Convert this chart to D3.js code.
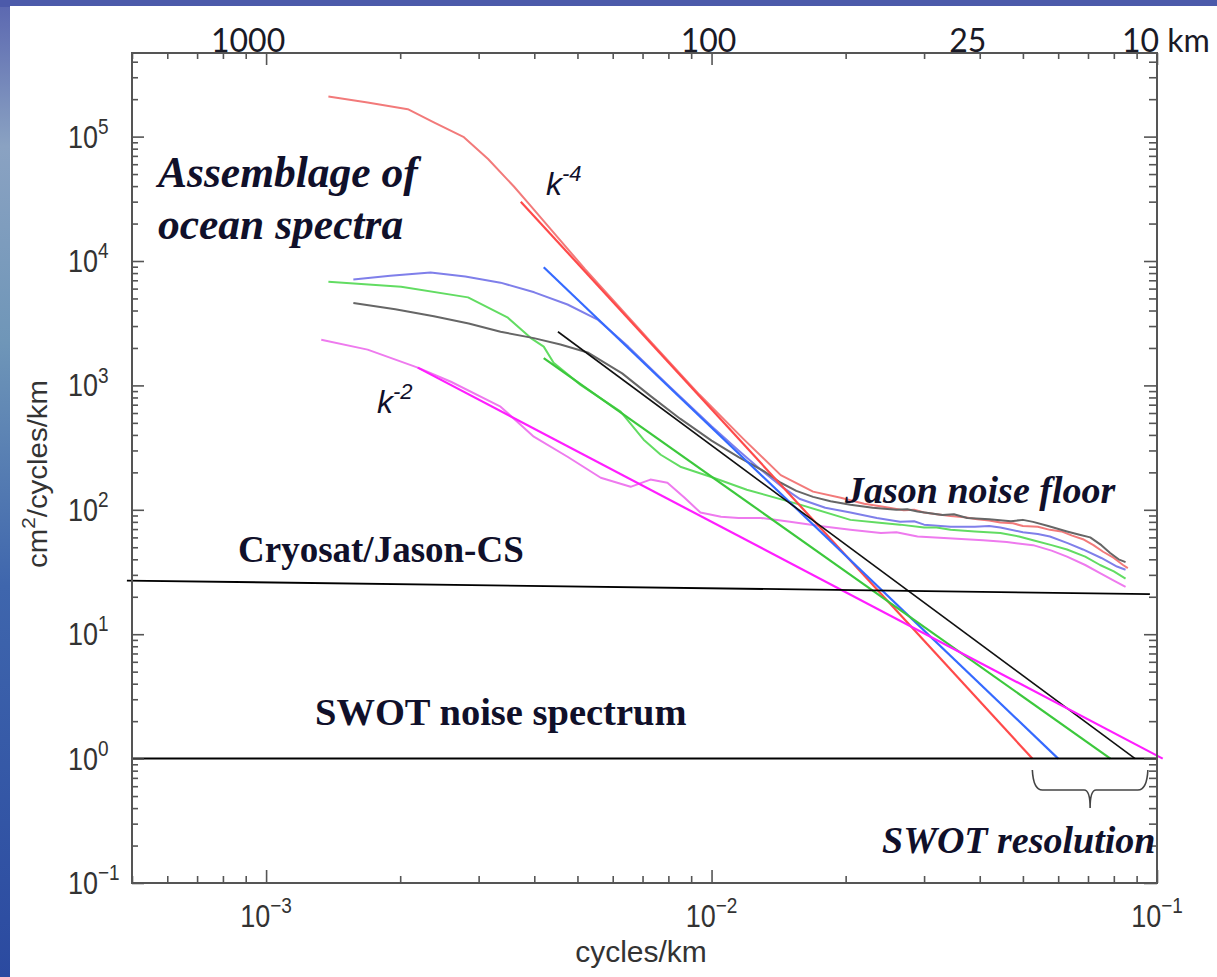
<!DOCTYPE html>
<html>
<head>
<meta charset="utf-8">
<script src="https://cdn.jsdelivr.net/npm/d3@7"></script>
<style>
  html, body { margin: 0; padding: 0; background: #fff; }
  svg { display: block; }
</style>
</head>
<body>
<svg id="chart" width="1217" height="977"></svg>
<script>
// Sea surface height wavenumber spectra, [wavenumber (cycles/km), PSD (cm^2/cycles/km)]
const redSpectrum = [
  [1.38e-3, 2.1e5], [1.69e-3, 1.88e5], [2.08e-3, 1.66e5], [2.38e-3, 1.3e5], [2.78e-3, 9.9e4],
  [3.15e-3, 6.6e4], [3.6e-3, 3.97e4], [3.9e-3, 2.85e4], [5.2e-3, 8.6e3], [7.3e-3, 2.25e3],
  [9.4e-3, 840], [1.18e-2, 370], [1.43e-2, 190], [1.69e-2, 140], [1.95e-2, 125], [2.2e-2, 112],
  [2.43e-2, 106], [2.7e-2, 99], [2.85e-2, 100], [3.0e-2, 95], [3.2e-2, 92], [3.44e-2, 89],
  [3.7e-2, 87], [3.95e-2, 84], [4.2e-2, 82], [4.45e-2, 79], [4.75e-2, 78], [5.0e-2, 74],
  [5.4e-2, 73], [5.75e-2, 69], [6.1e-2, 67], [6.45e-2, 62], [6.82e-2, 58], [7.2e-2, 52],
  [7.57e-2, 46], [8.0e-2, 41], [8.39e-2, 36], [8.6e-2, 34]
];
const blueSpectrum = [
  [1.57e-3, 7.1e3], [1.9e-3, 7.6e3], [2.34e-3, 8.1e3], [2.8e-3, 7.5e3], [3.36e-3, 6.7e3],
  [4.0e-3, 5.6e3], [4.75e-3, 4.47e3], [5.55e-3, 3.38e3], [6.5e-3, 2.05e3], [8.0e-3, 1.0e3],
  [1.0e-2, 470], [1.15e-2, 300], [1.29e-2, 210], [1.45e-2, 150], [1.58e-2, 122], [1.8e-2, 104],
  [2.05e-2, 95], [2.35e-2, 86], [2.65e-2, 80], [2.85e-2, 81], [3.0e-2, 76], [3.44e-2, 73],
  [3.9e-2, 73], [4.2e-2, 74], [4.45e-2, 72], [5.0e-2, 66], [5.4e-2, 64], [5.75e-2, 61],
  [6.3e-2, 54], [6.82e-2, 48], [7.5e-2, 41], [8.13e-2, 35], [8.5e-2, 33]
];
const greenSpectrum = [
  [1.38e-3, 6.8e3], [2.01e-3, 6.2e3], [2.84e-3, 5.1e3], [3.49e-3, 3.5e3], [3.93e-3, 2.4e3],
  [4.2e-3, 2.05e3], [4.42e-3, 1.52e3], [5.08e-3, 1.01e3], [6.25e-3, 615], [7.04e-3, 366],
  [7.69e-3, 277], [8.51e-3, 222], [1.01e-2, 181], [1.2e-2, 145], [1.58e-2, 110], [2.05e-2, 83],
  [2.35e-2, 79], [2.65e-2, 76], [3.0e-2, 72], [3.2e-2, 72], [3.44e-2, 69], [3.9e-2, 67],
  [4.45e-2, 65], [4.9e-2, 61], [5.27e-2, 57], [5.8e-2, 52], [6.28e-2, 48], [6.9e-2, 42],
  [7.45e-2, 36], [8.0e-2, 32], [8.5e-2, 28]
];
const blackSpectrum = [
  [1.57e-3, 4.6e3], [1.95e-3, 4.1e3], [2.38e-3, 3.6e3], [2.85e-3, 3.15e3], [3.36e-3, 2.7e3],
  [3.99e-3, 2.4e3], [4.58e-3, 2.13e3], [5.27e-3, 1.84e3], [6.3e-3, 1.25e3], [7.3e-3, 820],
  [8.5e-3, 540], [1.0e-2, 360], [1.15e-2, 265], [1.31e-2, 205], [1.43e-2, 165], [1.55e-2, 142],
  [1.69e-2, 127], [1.85e-2, 117], [2.05e-2, 110], [2.3e-2, 104], [2.6e-2, 100], [2.75e-2, 101],
  [2.9e-2, 97], [3.3e-2, 91], [3.5e-2, 92], [3.75e-2, 86], [4.2e-2, 84], [4.7e-2, 81],
  [5.0e-2, 83], [5.27e-2, 80], [5.7e-2, 74], [6.28e-2, 67], [6.7e-2, 63], [7.08e-2, 60],
  [7.5e-2, 52], [7.85e-2, 45], [8.2e-2, 40], [8.5e-2, 38]
];
const magentaSpectrum = [
  [1.33e-3, 2.33e3], [1.69e-3, 1.94e3], [2.19e-3, 1.39e3], [2.6e-3, 1.07e3], [3.36e-3, 675],
  [3.99e-3, 387], [4.75e-3, 267], [5.64e-3, 181], [6.58e-3, 153], [7.29e-3, 175], [7.96e-3, 165],
  [8.7e-3, 125], [9.44e-3, 95], [1.05e-2, 88], [1.15e-2, 86], [1.29e-2, 86], [1.5e-2, 80],
  [1.75e-2, 74], [2.05e-2, 69], [2.4e-2, 65], [2.6e-2, 66], [2.9e-2, 61], [3.4e-2, 59],
  [4.07e-2, 57], [4.6e-2, 55], [5.27e-2, 52], [5.8e-2, 47], [6.28e-2, 42], [6.9e-2, 36],
  [7.45e-2, 31], [8.0e-2, 27], [8.5e-2, 24]
];

// Power-law fits to each spectrum, end points down to the 1 cm^2/cycles/km level
const redFit = [[3.73e-3, 3.0e4], [0.0525, 1]];
const blueFit = [[4.2e-3, 8.9e3], [0.06, 1]];
const greenFit = [[4.2e-3, 1.66e3], [0.0786, 1]];
const blackFit = [[4.52e-3, 2.7e3], [0.0893, 1]];
const magentaFit = [[2.19e-3, 1.39e3], [0.103, 1]];

// Altimeter noise levels
const cryosatNoise = [[4.87e-4, 27], [0.0964, 21]];
const swotNoise = [[5e-4, 1], [0.1, 1]];
const swotResolution = [0.0525, 0.0954];

// Axis ticks
const xExponents = [-3, -2, -1];
const yExponents = [-1, 0, 1, 2, 3, 4, 5];
const topWavelengthsKm = [1000, 100, 25, 10];
const topLabels = ["1000", "100", "25", "10 km"];

// ---------------------------------------------------------------
const svg = d3.select("#chart");
const W = 1217, H = 977;
const plot = { left: 132, right: 1157, top: 53, bottom: 883 };

const x = d3.scaleLog().domain([5e-4, 0.1]).range([plot.left, plot.right]);
const y = d3.scaleLog().domain([0.1, 4.7e5]).range([plot.bottom, plot.top]);

// slide backdrop
const defs = svg.append("defs");
const bg = defs.append("linearGradient").attr("id", "slideBg")
  .attr("x1", 0).attr("y1", 0).attr("x2", 0).attr("y2", 1);
bg.append("stop").attr("offset", "0%").attr("stop-color", "#5a66b0");
bg.append("stop").attr("offset", "15%").attr("stop-color", "#8aa2c2");
bg.append("stop").attr("offset", "35%").attr("stop-color", "#6f96b8");
bg.append("stop").attr("offset", "60%").attr("stop-color", "#3f66ad");
bg.append("stop").attr("offset", "100%").attr("stop-color", "#2b4aa0");
svg.append("rect").attr("width", W).attr("height", H).attr("fill", "url(#slideBg)");
svg.append("rect").attr("width", W).attr("height", 7).attr("fill", "#4c5aaa");
svg.append("rect").attr("x", 10).attr("y", 6).attr("width", W - 10).attr("height", H - 6).attr("fill", "#fff");

const line = d3.line().x(d => x(d[0])).y(d => y(d[1]));

// measured spectra
const spectra = [
  { data: redSpectrum, color: "#f27a7a" },
  { data: blueSpectrum, color: "#7f7fea" },
  { data: greenSpectrum, color: "#62dc62" },
  { data: blackSpectrum, color: "#666" },
  { data: magentaSpectrum, color: "#ee7aee" }
];
svg.append("g").selectAll("path").data(spectra).join("path")
  .attr("d", d => line(d.data))
  .attr("fill", "none")
  .attr("stroke", d => d.color)
  .attr("stroke-width", 2)
  .attr("stroke-linejoin", "round");

// power-law fits
const fits = [
  { data: redFit, color: "#ff4a4a" },
  { data: blueFit, color: "#356aff" },
  { data: greenFit, color: "#3cc83c" },
  { data: blackFit, color: "#111" },
  { data: magentaFit, color: "#ff1eff" }
];
svg.append("g").selectAll("path").data(fits).join("path")
  .attr("d", d => line(d.data))
  .attr("fill", "none")
  .attr("stroke", d => d.color)
  .attr("stroke-width", d => d.color === "#111" ? 1.6 : 2.2);

// noise levels
svg.append("path").attr("d", line(cryosatNoise)).attr("fill", "none")
  .attr("stroke", "#000").attr("stroke-width", 1.8);
svg.append("path").attr("d", line(swotNoise)).attr("fill", "none")
  .attr("stroke", "#000").attr("stroke-width", 2);

// resolution brace below the SWOT noise line
{
  const xl = x(swotResolution[0]), xr = x(swotResolution[1]);
  const xm = (xl + xr) / 2;
  const yTop = y(0.81), yMid = y(0.56), yTip = y(0.40);
  const r = 10;
  const p = d3.path();
  p.moveTo(xl, yTop);
  p.quadraticCurveTo(xl + 1, yMid, xl + r, yMid);
  p.lineTo(xm - r * 0.6, yMid);
  p.quadraticCurveTo(xm, yMid, xm, yTip);
  p.quadraticCurveTo(xm, yMid, xm + r * 0.6, yMid);
  p.lineTo(xr - r, yMid);
  p.quadraticCurveTo(xr - 1, yMid, xr, yTop);
  svg.append("path").attr("d", p.toString()).attr("fill", "none")
    .attr("stroke", "#444").attr("stroke-width", 1.6);
}

// axes frame and inward ticks
const axisColor = "#555";
const xMinor = x.ticks().filter(v => !xExponents.some(e => Math.abs(Math.log10(v) - e) < 1e-6));
const xMajor = xExponents.map(e => Math.pow(10, e));
const yMinor = y.ticks().filter(v => !yExponents.some(e => Math.abs(Math.log10(v) - e) < 1e-6));
const yMajor = yExponents.map(e => Math.pow(10, e));

function styleAxis(g) {
  g.select(".domain").remove();
  g.selectAll("line").attr("stroke", axisColor).attr("stroke-width", 1.6);
  g.selectAll("text").remove();
}
const axes = [
  [d3.axisBottom(x).tickValues(xMinor).tickSize(-7), `translate(0,${plot.bottom})`],
  [d3.axisBottom(x).tickValues(xMajor).tickSize(-13), `translate(0,${plot.bottom})`],
  [d3.axisTop(x).tickValues(xMinor).tickSize(-6), `translate(0,${plot.top})`],
  [d3.axisTop(x).tickValues(xMajor).tickSize(-12), `translate(0,${plot.top})`],
  [d3.axisLeft(y).tickValues(yMinor).tickSize(-6), `translate(${plot.left},0)`],
  [d3.axisLeft(y).tickValues(yMajor).tickSize(-12), `translate(${plot.left},0)`],
  [d3.axisRight(y).tickValues(yMinor).tickSize(-8), `translate(${plot.right},0)`],
  [d3.axisRight(y).tickValues(yMajor).tickSize(-13), `translate(${plot.right},0)`]
];
axes.forEach(([ax, tr]) => svg.append("g").attr("transform", tr).call(ax).call(styleAxis));

svg.append("rect")
  .attr("x", plot.left).attr("y", plot.top)
  .attr("width", plot.right - plot.left).attr("height", plot.bottom - plot.top)
  .attr("fill", "none").attr("stroke", axisColor).attr("stroke-width", 2);

// tick labels (power-of-ten notation)
const tickFont = "'Liberation Sans', Arial, sans-serif";
const tickColor = "#333";
function powerLabel(g, exp) {
  const t = g.append("text")
    .attr("font-family", tickFont).attr("font-size", 27).attr("fill", tickColor);
  t.append("tspan").text("10");
  t.append("tspan").attr("font-size", 19).attr("dy", -12)
    .text(exp < 0 ? "\u2212" + Math.abs(exp) : String(exp));
  return t;
}
xExponents.forEach(e => {
  const g = svg.append("g")
    .attr("transform", `translate(${x(Math.pow(10, e))},927) scale(1,1.15)`);
  powerLabel(g, e).attr("text-anchor", "middle");
});
yExponents.forEach(e => {
  const g = svg.append("g")
    .attr("transform", `translate(68,${y(Math.pow(10, e)) + 11}) scale(1,1.15)`);
  powerLabel(g, e);
});

// wavelength labels along the top
const topOffsets = [-18, -3, -12, -35];
const topAnchors = ["middle", "middle", "middle", "start"];
topWavelengthsKm.forEach((km, i) => {
  svg.append("text")
    .attr("x", x(1 / km) + topOffsets[i]).attr("y", 52)
    .attr("text-anchor", topAnchors[i])
    .attr("font-family", "Lato, 'Open Sans', sans-serif")
    .attr("font-size", 32).attr("fill", "#1a1a26")
    .text(topLabels[i]);
});

// axis titles
svg.append("text")
  .attr("x", 641).attr("y", 962).attr("text-anchor", "middle")
  .attr("font-family", tickFont).attr("font-size", 30).attr("fill", tickColor)
  .text("cycles/km");
{
  const t = svg.append("text")
    .attr("transform", "translate(47,474) rotate(-90) scale(1.09,1)")
    .attr("text-anchor", "middle")
    .attr("font-family", tickFont).attr("font-size", 27).attr("fill", tickColor);
  t.append("tspan").text("cm");
  t.append("tspan").attr("font-size", 19).attr("dy", -12).text("2");
  t.append("tspan").attr("dy", 12).text("/cycles/km");
}

// annotations
const serif = "'Liberation Serif', 'Times New Roman', serif";
const ink = "#10102a";
function note(txt, px, py, size, italic, bold = true) {
  svg.append("text").attr("x", px).attr("y", py)
    .attr("font-family", serif).attr("font-size", size)
    .attr("font-weight", bold ? "bold" : "normal")
    .attr("font-style", italic ? "italic" : "normal")
    .attr("fill", ink).text(txt);
}
note("Assemblage of", 158, 187, 43.5, true);
note("ocean spectra", 158, 239, 43.5, true);
note("Jason noise floor", 845, 503, 38, true);
note("Cryosat/Jason-CS", 238, 562, 37, false);
note("SWOT noise spectrum", 315, 725, 38.5, false);
note("SWOT resolution", 882, 853, 38, true);

function slopeLabel(px, py, exp) {
  const t = svg.append("text").attr("x", px).attr("y", py)
    .attr("font-family", tickFont).attr("font-style", "italic")
    .attr("font-size", 32).attr("fill", ink);
  t.append("tspan").text("k");
  t.append("tspan").attr("font-size", 22).attr("dy", -14).text(exp);
}
slopeLabel(546, 195, "-4");
slopeLabel(377, 413, "-2");
</script>
</body>
</html>
